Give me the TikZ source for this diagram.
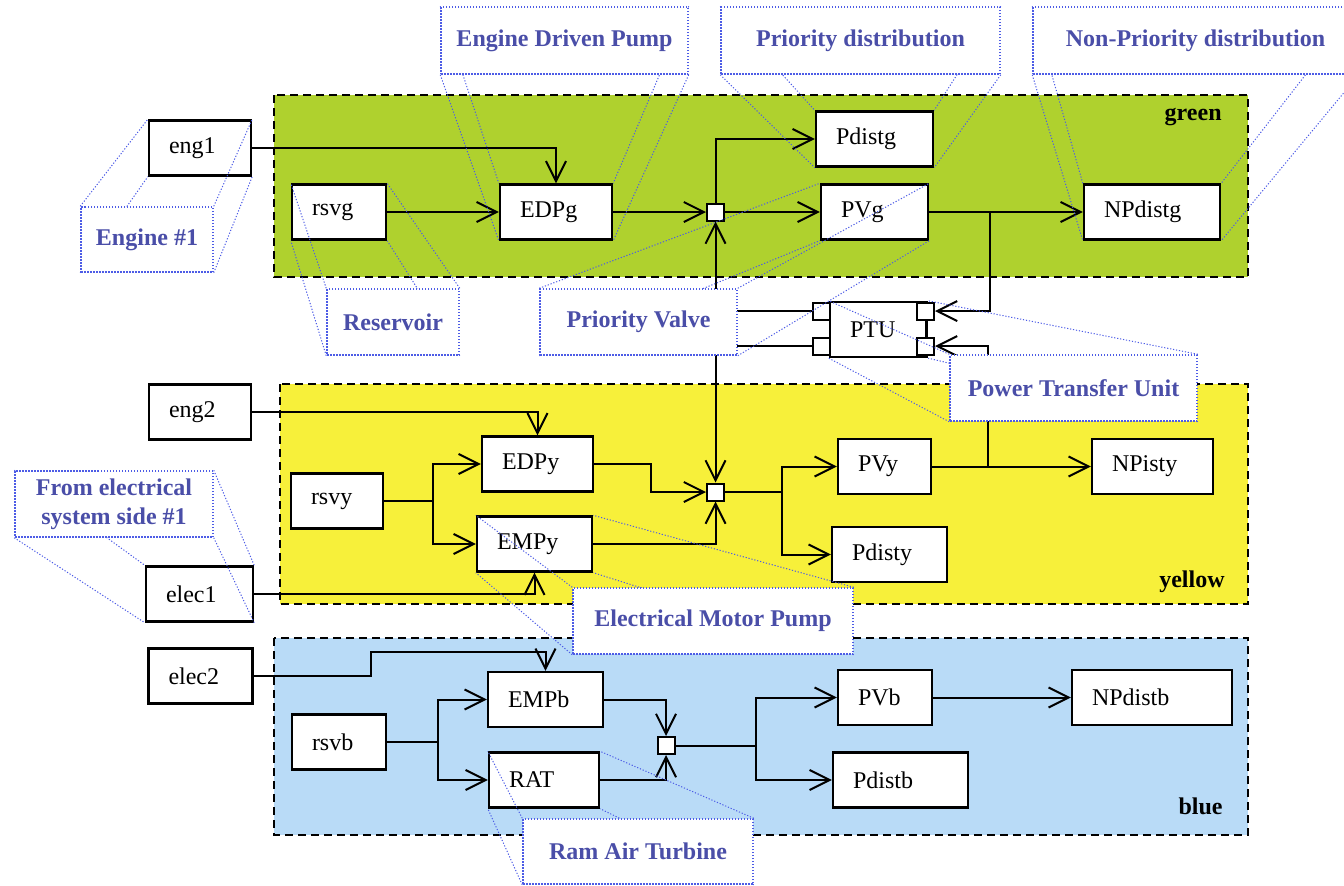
\documentclass[tikz,border=0pt]{standalone}
\usepackage{fontspec}
\setmainfont{Liberation Serif}
\usepackage{xcolor}
\definecolor{cGreenSys}{HTML}{AFD12E}
\definecolor{cYellowSys}{HTML}{F7F03A}
\definecolor{cBlueSys}{HTML}{B9DBF7}
\definecolor{cNote}{HTML}{4A4EA8}
\definecolor{cLeader}{HTML}{4D5CE6}
\usepackage{tikz}
\usetikzlibrary{arrows.meta}
\pgfdeclarelayer{back}
\pgfdeclarelayer{front}
\pgfsetlayers{back,main,front}
\tikzset{
  node-box/.style={draw=black,line width=1.2pt,fill=white,minimum height=27.5pt,
    inner xsep=10pt,align=left,font=\fontsize{12}{14}\selectfont},
  node-port/.style={draw=black,line width=1pt,fill=white,minimum size=8.5pt,inner sep=0pt},
  system-area/.style={draw=black,line width=0.8pt,dash pattern=on 4pt off 2.5pt},
  system-name/.style={font=\fontsize{12}{14}\selectfont\bfseries,anchor=base east,inner sep=0pt},
  arrow/.style={-{Straight Barb[length=10pt,width=10pt]},line width=1pt},
  line/.style={line width=1pt},
  note-box/.style={draw=cLeader,line width=0.75pt,dash pattern=on 0.75pt off 0.75pt,
    fill=white,align=center,text=cNote,font=\fontsize{12}{14.5}\selectfont\bfseries},
  note-leader/.style={draw=cLeader,line width=0.5pt,dash pattern=on 0.6pt off 0.9pt},
}

\begin{document}
\begin{tikzpicture}[x=0.5pt,y=-0.5pt]
  \clip (0,0) rectangle (1344,885);

  % hydraulic systems
  \begin{pgfonlayer}{back}
    \draw[system-area,fill=cGreenSys] (274,95) rectangle (1248,277);
    \draw[system-area,fill=cYellowSys] (280,384) rectangle (1248,604);
    \draw[system-area,fill=cBlueSys] (274,638) rectangle (1248,835);
  \end{pgfonlayer}
  \node[system-name] (lblg) at (1222,120) {green};
  \node[system-name] (lbly) at (1225,587) {yellow};
  \node[system-name] (lblb) at (1223,814) {blue};

  % green
  \node[node-box,text width=31pt] (eng1) at (200,148) {eng1};
  \node[node-box,text width=27pt] (rsvg) at (339,212) {rsvg};
  \node[node-box,text width=36pt] (EDPg) at (556,212) {EDPg};
  \node[node-port] (gj) at (715.5,212) {};
  \node[node-box,text width=38.5pt] (Pdistg) at (874.5,139) {Pdistg};
  \node[node-box,text width=33.5pt] (PVg) at (874.5,212) {PVg};
  \node[node-box,text width=48pt] (NPdistg) at (1152,212) {NPdistg};

  % PTU
  \node[node-box,text width=28.5pt] (PTU) at (878.5,329.5) {PTU};
  \node[node-port] (PTUlt) at (821.5,311) {};
  \node[node-port] (PTUlb) at (821.5,346) {};
  \node[node-port] (PTUrt) at (925.5,311) {};
  \node[node-port] (PTUrb) at (925.5,346) {};

  % yellow
  \node[node-box,text width=31pt] (eng2) at (200,412) {eng2};
  \node[node-box,text width=26pt] (rsvy) at (337,501) {rsvy};
  \node[node-box,text width=33.5pt] (elec1) at (199.5,594) {elec1};
  \node[node-box,text width=35.5pt] (EDPy) at (537.5,464) {EDPy};
  \node[node-box,text width=37.5pt] (EMPy) at (534.5,544) {EMPy};
  \node[node-port] (yj) at (715.5,492) {};
  \node[node-box,text width=26.5pt] (PVy) at (884.5,466.5) {PVy};
  \node[node-box,text width=37.5pt] (Pdisty) at (889.5,554.5) {Pdisty};
  \node[node-box,text width=40.5pt] (NPisty) at (1152.5,466.5) {NPisty};

  % blue
  \node[node-box,text width=32pt] (elec2) at (200.5,676) {elec2};
  \node[node-box,text width=27pt] (rsvb) at (339,742) {rsvb};
  \node[node-box,text width=37.5pt] (EMPb) at (545.5,699.5) {EMPb};
  \node[node-box,text width=35pt] (RAT) at (544,780) {RAT};
  \node[node-port] (bj) at (666,745.5) {};
  \node[node-box,text width=27pt] (PVb) at (885,697.5) {PVb};
  \node[node-box,text width=47.5pt] (Pdistb) at (900.5,780) {Pdistb};
  \node[node-box,text width=60pt] (NPdistb) at (1152,697.5) {NPdistb};

  % flows green
  \draw[arrow] (eng1.east) -| (EDPg.north);
  \draw[arrow] (rsvg.east) -- (EDPg.west);
  \draw[arrow] (EDPg.east) -- (gj.west);
  \draw[arrow] (gj.north) |- (Pdistg.west);
  \draw[arrow] (gj.east) -- (PVg.west);
  \draw[arrow] (PVg.east) -- (NPdistg.west);
  \draw[arrow] (PVg.east) -- ++(61,0) |- (PTUrt.east);
  \draw[arrow] (PTUlt.west) -| (gj.south);
  \draw[arrow] (PTUlb.west) -| (yj.north);
  \draw[arrow] (PVy.east) -- ++(56,0) |- (PTUrb.east);
  \draw[line] (PTUrt) -- (PTUrb);

  % flows yellow
  \draw[arrow] (eng2.east) -| (EDPy.north);
  \draw[arrow] (rsvy.east) -- ++(49,0) |- (EDPy.west);
  \draw[arrow] (rsvy.east) -- ++(49,0) |- (EMPy.west);
  \draw[arrow] (elec1.east) -| (EMPy.south);
  \draw[arrow] (EDPy.east) -- ++(57,0) |- (yj.west);
  \draw[arrow] (EMPy.east) -| (yj.south);
  \draw[arrow] (yj.east) -- ++(57,0) |- (PVy.west);
  \draw[arrow] (yj.east) -- ++(57,0) |- (Pdisty.west);
  \draw[arrow] (PVy.east) -- (NPisty.west);

  % flows blue
  \draw[arrow] (elec2.east) -- ++(117,0) -- ++(0,-24) -| (EMPb.north);
  \draw[arrow] (rsvb.east) -- ++(51,0) |- (EMPb.west);
  \draw[arrow] (rsvb.east) -- ++(51,0) |- (RAT.west);
  \draw[arrow] (EMPb.east) -| (bj.north);
  \draw[arrow] (RAT.east) -| (bj.south);
  \draw[arrow] (bj.east) -- ++(80,0) |- (PVb.west);
  \draw[arrow] (bj.east) -- ++(80,0) |- (Pdistb.west);
  \draw[arrow] (PVb.east) -- (NPdistb.west);

  % callouts
  \begin{pgfonlayer}{front}
    \node[note-box,minimum width=66pt,minimum height=32.5pt] (nEngine) at (147,239.5) {Engine \#1};
    \node[note-box,minimum width=66pt,minimum height=33pt] (nRsv) at (393,322) {Reservoir};
    \node[note-box,minimum width=123.5pt,minimum height=33.5pt] (nEDP) at (564.5,40.5) {Engine Driven Pump};
    \node[note-box,minimum width=139.5pt,minimum height=33.5pt] (nPdist) at (860.5,40.5) {Priority distribution};
    \node[note-box,minimum width=162.5pt,minimum height=33.5pt] (nNPdist) at (1195.5,40.5) {Non-Priority distribution};
    \node[note-box,minimum width=98.5pt,minimum height=33pt] (nPV) at (638.5,322) {Priority Valve};
    \node[note-box,minimum width=123.5pt,minimum height=33pt] (nPTU) at (1073.5,388) {Power Transfer Unit};
    \node[note-box,minimum width=99pt,minimum height=33pt] (nElec) at (114,504) {From electrical\\system side \#1};
    \node[note-box,minimum width=140pt,minimum height=33pt] (nEMP) at (713,621) {Electrical Motor Pump};
    \node[note-box,minimum width=115pt,minimum height=32.5pt] (nRAT) at (638,851.5) {Ram Air Turbine};
  \end{pgfonlayer}
  \foreach \n/\t in {nEngine/eng1,nRsv/rsvg,nEDP/EDPg,nPdist/Pdistg,nNPdist/NPdistg,
      nPV/PVg,nPTU/PTU,nElec/elec1,nEMP/EMPy,nRAT/RAT}
    \foreach \c in {north west,north east,south west,south east}
      \draw[note-leader] (\n.\c) -- (\t.\c);
\end{tikzpicture}
\end{document}
